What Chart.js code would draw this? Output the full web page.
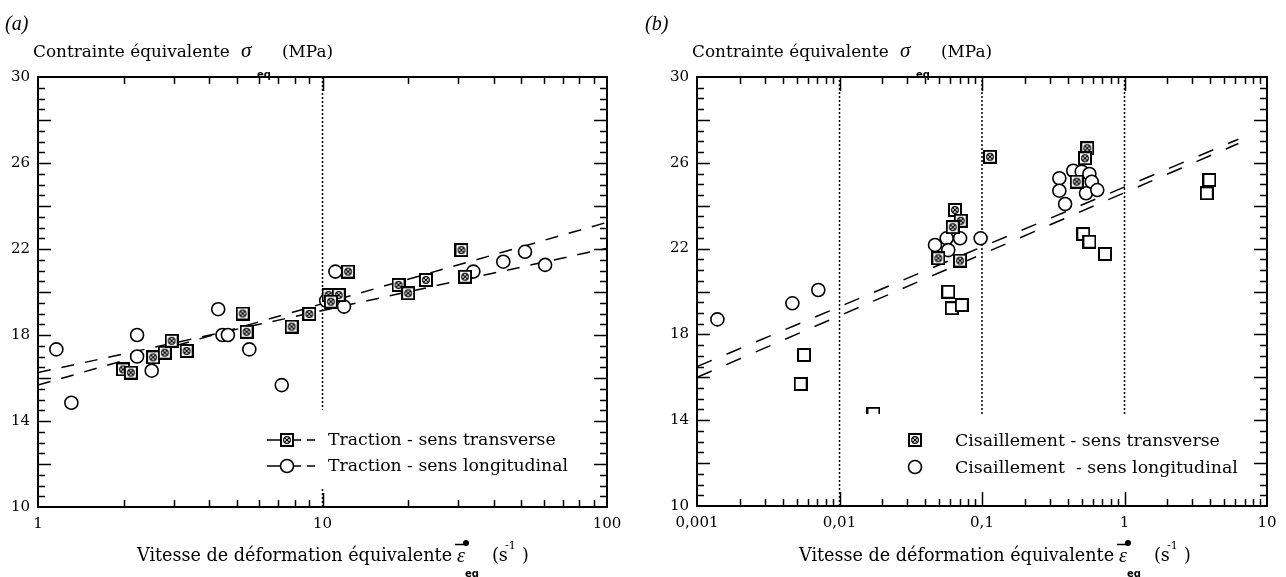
<!DOCTYPE html>
<html>
<head>
<meta charset="utf-8">
<script src="https://cdn.jsdelivr.net/npm/chart.js@4.4.0/dist/chart.umd.min.js"></script>
<style>
  html, body { margin: 0; padding: 0; background: #fff; }
  #wrap { position: relative; width: 1286px; height: 577px; }
  .panel { position: absolute; top: 0; width: 643px; height: 577px; }
</style>
</head>
<body>
<div id="wrap">
  <div class="panel" style="left:0"><canvas id="chartA"></canvas></div>
  <div class="panel" style="left:643px"><canvas id="chartB"></canvas></div>
</div>
<script>
// (a) traction
const tracTransX = [1.99, 2.12, 2.54, 2.79, 2.95, 3.33, 5.24, 5.41, 7.79, 8.99, 10.5, 11.4, 10.7, 12.3, 18.5, 20.0, 23.1, 30.8, 31.7];
const tracTransY = [16.4, 16.25, 16.96, 17.18, 17.73, 17.26, 19.0, 18.15, 18.39, 18.98, 19.86, 19.86, 19.55, 20.95, 20.33, 19.94, 20.56, 21.95, 20.71];
const tracLongX = [1.16, 1.31, 2.23, 2.23, 2.51, 4.3, 4.45, 4.65, 5.53, 7.19, 10.3, 11.1, 11.9, 33.9, 43.2, 51.5, 60.6];
const tracLongY = [17.33, 14.85, 18.0, 17.0, 16.34, 19.2, 18.0, 18.0, 17.33, 15.67, 19.6, 20.95, 19.32, 20.95, 21.41, 21.87, 21.26];
const tracFitAX = [1, 100];
const tracFitAY = [15.67, 23.24];
const tracFitBX = [1, 100];
const tracFitBY = [16.25, 22.03];
const tracXTicks = [1, 10, 100];
const tracXLabels = ['1', '10', '100'];
const tracGuides = [10];

// (b) cisaillement
const cisTransX = [0.0646, 0.0709, 0.0623, 0.0494, 0.0702, 0.1137, 0.548, 0.528, 0.462];
const cisTransY = [23.8, 23.3, 23.0, 21.55, 21.44, 26.28, 26.68, 26.21, 25.12];
const cisLongX = [0.00139, 0.00467, 0.0071, 0.0468, 0.0565, 0.0702, 0.058, 0.0978, 0.349, 0.349, 0.383, 0.437, 0.501, 0.567, 0.589, 0.537, 0.644];
const cisLongY = [18.7, 19.45, 20.07, 22.17, 22.48, 22.48, 21.93, 22.48, 25.28, 24.7, 24.08, 25.63, 25.59, 25.48, 25.12, 24.58, 24.73];
const cisOpenX = [0.00534, 0.00564, 0.0173, 0.058, 0.0613, 0.0721, 0.514, 0.567, 0.73, 3.78, 3.94];
const cisOpenY = [15.69, 17.04, 14.3, 19.99, 19.22, 19.37, 22.68, 22.32, 21.75, 24.58, 25.2];
const cisFitAX = [0.001, 6.3];
const cisFitAY = [16.5, 27.1];
const cisFitBX = [0.001, 6.3];
const cisFitBY = [16.0, 26.9];
const cisXTicks = [0.001, 0.01, 0.1, 1, 10];
const cisXLabels = ['0,001', '0,01', '0,1', '1', '10'];
const cisGuides = [0.01, 0.1, 1];

const yTicks = [10, 14, 18, 22, 26, 30];
const yTickLabels = ['10', '14', '18', '22', '26', '30'];

const SERIF = '"DejaVu Serif"';
Chart.defaults.font.family = SERIF;
Chart.defaults.color = '#000';

const zip = (xs, ys) => xs.map((x, i) => ({ x: x, y: ys[i] }));

// marker images
function makeSquare(cross) {
    const c = document.createElement('canvas');
    c.width = 14; c.height = 14;
    const g = c.getContext('2d');
    g.fillStyle = '#fff';
    g.fillRect(1, 1, 12, 12);
    g.strokeStyle = '#000';
    g.lineWidth = 2;
    g.strokeRect(1, 1, 12, 12);
    if (cross) {
        g.lineWidth = 1.2;
        g.beginPath();
        g.arc(7, 7, 3.3, 0, Math.PI * 2);
        g.moveTo(4.8, 4.8); g.lineTo(9.2, 9.2);
        g.moveTo(9.2, 4.8); g.lineTo(4.8, 9.2);
        g.stroke();
    }
    return c;
}
const sqCross = makeSquare(true);
const sqOpen = makeSquare(false);

const pts = (data, style) => ({
    data: data, showLine: false,
    pointStyle: style, pointRadius: style === 'circle' ? 6.5 : 7,
    pointBorderWidth: 1.6, pointBorderColor: '#000', pointBackgroundColor: '#fff'
});
const dashed = (data, dash) => ({
    data: data, showLine: true, pointRadius: 0, borderColor: '#000',
    borderWidth: 1.5, borderDash: dash, tension: 0
});
const guide = x => dashed([{ x: x, y: 10 }, { x: x, y: 30 }], [2, 2]);

function fitFont(ctx, text, width, style) {
    ctx.font = style + ' 20px ' + SERIF;
    const size = 20 * width / ctx.measureText(text).width;
    return style + ' ' + size.toFixed(2) + 'px ' + SERIF;
}

const decor = {
    id: 'decor',
    afterDatasetsDraw(chart, args, o) {
        const ctx = chart.ctx;
        ctx.save();
        ctx.fillStyle = '#fff';
        ctx.fillRect(o.box[0], o.box[1], o.box[2] - o.box[0], o.box[3] - o.box[1]);
        ctx.fillStyle = '#000';
        ctx.strokeStyle = '#000';
        ctx.font = fitFont(ctx, o.fitText, o.fitWidth, '');
        ctx.textBaseline = 'middle';
        o.entries.forEach((e, i) => {
            const y = o.rows[i];
            if (o.withLine) {
                ctx.lineWidth = 1.5;
                ctx.setLineDash([14, 6]);
                ctx.beginPath();
                ctx.moveTo(o.markerX - 20, y);
                ctx.lineTo(o.markerX + 28, y);
                ctx.stroke();
                ctx.setLineDash([]);
            }
            if (e.style === 'circle') {
                ctx.beginPath();
                ctx.arc(o.markerX, y, 6.5, 0, Math.PI * 2);
                ctx.fillStyle = '#fff'; ctx.fill();
                ctx.lineWidth = 1.6; ctx.stroke();
                ctx.fillStyle = '#000';
            } else {
                ctx.drawImage(e.style, o.markerX - 7, y - 7);
            }
            ctx.fillText(e.label, o.textX, y + 1);
        });
        ctx.restore();
    },
    afterDraw(chart, args, o) {
        const ctx = chart.ctx, a = chart.chartArea;
        const xs = chart.scales.x, ys = chart.scales.y;
        ctx.save();
        ctx.strokeStyle = '#000';
        ctx.fillStyle = '#000';
        // frame
        ctx.lineWidth = 2;
        ctx.strokeRect(a.left, a.top, a.right - a.left, a.bottom - a.top);
        // y ticks, both sides
        ctx.lineWidth = 1.5;
        ctx.beginPath();
        for (let v = 10.5; v < 30; v += 0.5) {
            const py = Math.round(ys.getPixelForValue(v)) + 0.5;
            const len = v % 2 === 0 ? 13 : 7;
            ctx.moveTo(a.left, py); ctx.lineTo(a.left + len, py);
            ctx.moveTo(a.right, py); ctx.lineTo(a.right - len, py);
        }
        // x ticks on log axis, top and bottom
        const d0 = Math.round(Math.log10(xs.min)), d1 = Math.round(Math.log10(xs.max));
        for (let d = d0; d < d1; d++) {
            for (let k = 1; k <= 9; k++) {
                if (k === 1 && d === d0) continue;
                const px = Math.round(xs.getPixelForValue(k * Math.pow(10, d))) + 0.5;
                const len = k === 1 ? 14 : 7;
                ctx.moveTo(px, a.bottom); ctx.lineTo(px, a.bottom - len);
                ctx.moveTo(px, a.top); ctx.lineTo(px, a.top + len);
            }
        }
        ctx.stroke();

        // panel letter
        ctx.textBaseline = 'alphabetic';
        ctx.textAlign = 'left';
        ctx.font = 'italic 20px "Liberation Serif"';
        ctx.fillText(o.letter, o.letterX, 30);

        // y title
        const yT = 'Contrainte équivalente';
        const yFont = fitFont(ctx, yT, 197, '');
        ctx.font = yFont;
        ctx.fillText(yT, a.left - 5, 57);
        ctx.font = 'italic 21px "Liberation Serif"';
        ctx.fillText('σ', a.left + 203, 57);
        ctx.font = 'bold 10px "DejaVu Sans"';
        ctx.fillText('eq', a.left + 219, 78);
        ctx.font = yFont;
        ctx.fillText('(MPa)', a.left + 244, 57);

        // x title
        const xT = 'Vitesse de déformation équivalente';
        const xFont = fitFont(ctx, xT, 315, '');
        const x0 = a.left + o.xTitleShift;
        ctx.font = xFont;
        ctx.fillText(xT, x0 + 99, 561);
        ctx.font = 'italic 20px "Liberation Serif"';
        ctx.fillText('ε', x0 + 419, 562);
        ctx.lineWidth = 1.5;
        ctx.beginPath();
        ctx.moveTo(x0 + 417, 544.5); ctx.lineTo(x0 + 429, 544.5);
        ctx.stroke();
        ctx.beginPath();
        ctx.arc(x0 + 428, 543, 3, 0, Math.PI * 2);
        ctx.fill();
        ctx.font = 'bold 10px "DejaVu Sans"';
        ctx.fillText('eq', x0 + 427, 577);
        ctx.font = xFont;
        ctx.fillText('(s', x0 + 454, 561);
        ctx.font = '11px ' + SERIF;
        ctx.fillText('-1', x0 + 467, 549);
        ctx.font = xFont;
        ctx.fillText(')', x0 + 484, 561);
        ctx.restore();
    }
};

function makeChart(id, cfg) {
    return new Chart(document.getElementById(id), {
        type: 'scatter',
        data: { datasets: cfg.datasets },
        options: {
            responsive: true,
            maintainAspectRatio: false,
            animation: false,
            devicePixelRatio: 1,
            layout: { padding: cfg.padding },
            plugins: {
                legend: { display: false },
                tooltip: { enabled: false },
                decor: cfg.decor
            },
            scales: {
                x: {
                    type: 'logarithmic',
                    min: cfg.xTicks[0],
                    max: cfg.xTicks[cfg.xTicks.length - 1],
                    grid: { display: false, drawTicks: false },
                    border: { display: false },
                    afterBuildTicks: s => { s.ticks = cfg.xTicks.map(v => ({ value: v })); },
                    afterFit: s => { s.height = cfg.xHeight; },
                    ticks: {
                        autoSkip: false, maxRotation: 0, padding: 8,
                        font: { size: 15 },
                        callback: (v, i) => cfg.xLabels[i]
                    }
                },
                y: {
                    min: 10, max: 30,
                    grid: { display: false, drawTicks: false },
                    border: { display: false },
                    afterBuildTicks: s => { s.ticks = yTicks.map(v => ({ value: v })); },
                    afterFit: s => { s.width = cfg.yWidth; },
                    ticks: {
                        padding: 8,
                        font: { size: 15 },
                        callback: (v, i) => yTickLabels[i]
                    }
                }
            }
        },
        plugins: [decor]
    });
}

makeChart('chartA', {
    padding: { left: 0, right: 36, top: 77, bottom: 0 },
    yWidth: 38, xHeight: 70,
    xTicks: tracXTicks, xLabels: tracXLabels,
    datasets: [
        pts(zip(tracTransX, tracTransY), sqCross),
        pts(zip(tracLongX, tracLongY), 'circle'),
        dashed(zip(tracFitAX, tracFitAY), [13, 11]),
        dashed(zip(tracFitBX, tracFitBY), [13, 11]),
        ...tracGuides.map(guide)
    ],
    decor: {
        letter: '(a)', letterX: 5, xTitleShift: 0,
        box: [258, 410, 600, 488],
        rows: [440, 466], markerX: 287, textX: 328, withLine: true,
        fitText: 'Traction - sens longitudinal', fitWidth: 240,
        entries: [
            { style: sqCross, label: 'Traction - sens transverse' },
            { style: 'circle', label: 'Traction - sens longitudinal' }
        ]
    }
});

makeChart('chartB', {
    padding: { left: 0, right: 19, top: 77, bottom: 0 },
    yWidth: 54, xHeight: 71,
    xTicks: cisXTicks, xLabels: cisXLabels,
    datasets: [
        pts(zip(cisTransX, cisTransY), sqCross),
        pts(zip(cisLongX, cisLongY), 'circle'),
        pts(zip(cisOpenX, cisOpenY), sqOpen),
        dashed(zip(cisFitAX, cisFitAY), [16, 16]),
        dashed(zip(cisFitBX, cisFitBY), [16, 16]),
        ...cisGuides.map(guide)
    ],
    decor: {
        letter: '(b)', letterX: 2, xTitleShift: 3,
        box: [207, 414, 619, 505],
        rows: [440, 467], markerX: 272, textX: 312, withLine: false,
        fitText: 'Cisaillement  - sens longitudinal', fitWidth: 283,
        entries: [
            { style: sqCross, label: 'Cisaillement - sens transverse' },
            { style: 'circle', label: 'Cisaillement  - sens longitudinal' }
        ]
    }
});
</script>
</body>
</html>
